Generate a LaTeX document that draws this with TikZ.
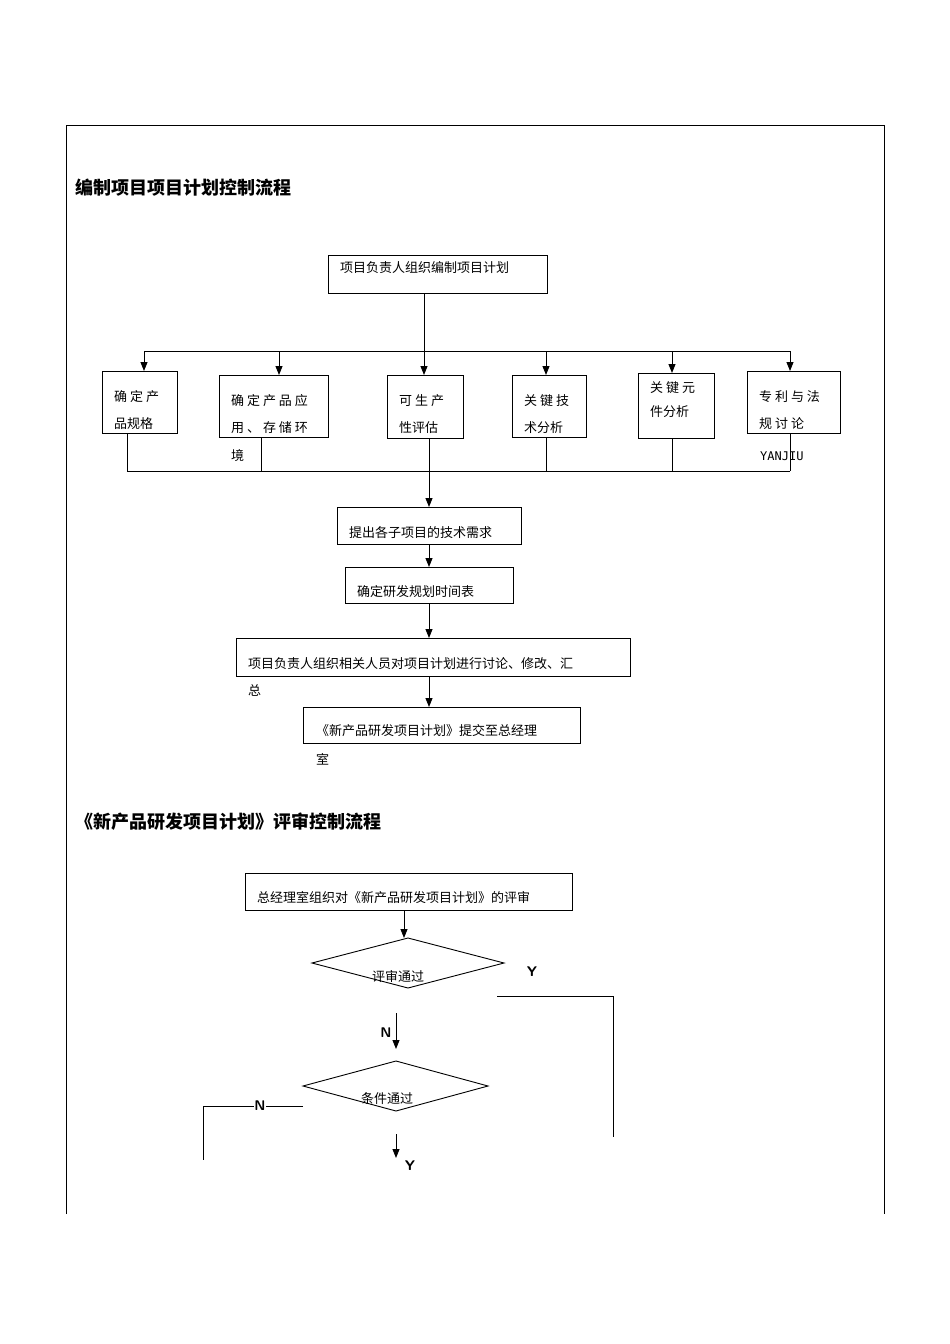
\documentclass[tikz,border=0pt]{standalone}
\usepackage{fontspec}
\setmainfont{Noto Sans CJK SC}
\usetikzlibrary{arrows.meta}
\begin{document}
\begin{tikzpicture}[x=1pt,y=-1pt,
 bx/.style={draw,line width=0.9pt},
 ln/.style={line width=0.9pt},
 ar/.style={line width=0.9pt,-{Triangle[length=9pt,width=7pt]}},
 tx/.style={anchor=west,inner sep=0pt,font=\fontsize{13}{13}\selectfont},
 hd/.style={anchor=west,inner sep=0pt,font=\fontsize{18}{18}\selectfont\bfseries},
 lb/.style={inner sep=0pt,font=\fontsize{14}{14}\selectfont\bfseries\sffamily}]
\useasboundingbox (0,0) rectangle (950,1344);
\draw[ln] (66,1214) -- (66,125) -- (884,125) -- (884,1214);
\node[hd] (h1) at (75,188) {编制项目项目计划控制流程};
\node[hd] (h2) at (75,822) {《新产品研发项目计划》评审控制流程};
% top
\draw[bx] (328,255) rectangle (547,293);
\node[tx] (t0) at (340,268) {项目负责人组织编制项目计划};
\coordinate (top) at (424,293);
\draw[ln] (424,293) -- (424,351);
\draw[ln] (144,351) -- (790,351);
\foreach \x/\y in {144/371,279/375,424/375,546/375,672/373,790/371}
  \draw[ar] (\x,351) -- (\x,\y);
\draw[bx] (102,371) rectangle (177,433);
\draw[bx] (219,375) rectangle (328,437);
\draw[bx] (387,375) rectangle (463,438);
\draw[bx] (512,375) rectangle (586,437);
\draw[bx] (638,373) rectangle (714,438);
\draw[bx] (747,371) rectangle (840,433);
\node[tx] (a1) at (114,397) {确 定 产};
\node[tx] (a2) at (114,424) {品规格};
\node[tx] (b1) at (231,401) {确 定 产 品 应};
\node[tx] (b2) at (231,428) {用 、 存 储 环};
\node[tx] (b3) at (231,456) {境};
\node[tx] (c1) at (399,401) {可 生 产};
\node[tx] (c2) at (399,428) {性评估};
\node[tx] (d1) at (524,401) {关 键 技};
\node[tx] (d2) at (524,428) {术分析};
\node[tx] (e1) at (650,388) {关 键 元};
\node[tx] (e2) at (650,412) {件分析};
\node[tx] (f1) at (759,397) {专 利 与 法};
\node[tx] (f2) at (759,424) {规  讨  论};
\node[tx] (f3) at (760,456) {\fontspec{DejaVu Sans Mono}\fontsize{12}{12}\selectfont YANJIU};
\draw[ln] (127,433) -- (127,471);
\draw[ln] (261,437) -- (261,471);
\draw[ln] (546,437) -- (546,471);
\draw[ln] (672,438) -- (672,471);
\draw[ln] (790,433) -- (790,471);
\draw[ln] (127,471) -- (790,471);
\draw[ar] (429,438) -- (429,507);
\draw[bx] (337,507) rectangle (521,544);
\node[tx] (g) at (349,533) {提出各子项目的技术需求};
\draw[ar] (429,544) -- (429,567);
\draw[bx] (345,567) rectangle (513,603);
\node[tx] (h) at (357,592) {确定研发规划时间表};
\draw[ar] (429,603) -- (429,638);
\draw[bx] (236,638) rectangle (630,676);
\node[tx] (i1) at (248,664) {项目负责人组织相关人员对项目计划进行讨论、修改、汇};
\node[tx] (i2) at (248,690) {总};
\draw[ar] (429,676) -- (429,707);
\draw[bx] (303,707) rectangle (580,743);
\node[tx] (j1) at (316,731) {《新产品研发项目计划》提交至总经理};
\node[tx] (j2) at (316,759) {室};
% part 2
\draw[bx] (245,873) rectangle (572,910);
\node[tx] (k) at (257,898) {总经理室组织对《新产品研发项目计划》的评审};
\draw[ar] (404,910) -- (404,938);
\draw[bx] (312,963) -- (408,938) -- (504,963) -- (408,988) -- cycle;
\node[tx] (d1t) at (372,976) {评审通过};
\node[lb] (Y1) at (532,972) {Y};
\draw[ln] (497,996) -- (613,996) -- (613,1137);
\draw[ar] (396,1013) -- (396,1049);
\node[lb] (N1) at (386,1033) {N};
\draw[bx] (303,1086) -- (396,1061) -- (488,1086) -- (396,1111) -- cycle;
\node[tx] (d2t) at (361,1099) {条件通过};
\draw[ln] (303,1106) -- (203,1106) -- (203,1160);
\node[lb,fill=white] (N2) at (260,1106) {N};
\draw[ar] (396,1134) -- (396,1158);
\node[lb] (Y2) at (410,1166) {Y};
\end{tikzpicture}
\end{document}
